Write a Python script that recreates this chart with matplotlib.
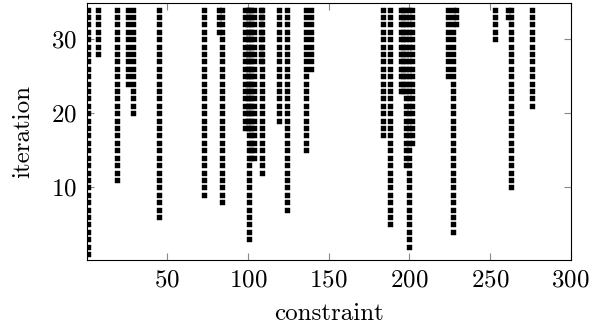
import matplotlib.pyplot as plt

plt.rcParams['font.family'] = 'serif'
plt.rcParams['font.serif'] = ['cmr10']
plt.rcParams['mathtext.fontset'] = 'cm'
plt.rcParams['axes.formatter.use_mathtext'] = True

# constraint index and the first iteration it shows up (stays until the last one)
constraint = [1, 7, 19, 26, 29, 45, 73, 82, 84, 98, 100, 101, 102, 104, 108, 109,
              119, 124, 136, 139, 184, 188, 195, 196, 198, 200, 202, 224, 227, 229,
              253, 261, 263, 276]
first_iter = [1, 28, 11, 24, 20, 6, 9, 31, 8, 18, 18, 3, 14, 14, 27, 12,
              19, 7, 15, 26, 17, 5, 23, 23, 13, 2, 16, 25, 4, 32,
              30, 33, 10, 21]
last_iter = 34

xs = []
ys = []
for c, f in zip(constraint, first_iter):
    for it in range(f, last_iter + 1):
        xs.append(c)
        ys.append(it)

fig = plt.figure(figsize=(6.05, 3.29), dpi=100)
ax = fig.add_axes([0.143, 0.21, 0.8, 0.78])
ax.plot(xs, ys, 's', color='black', ms=3.6, mew=0.3)

ax.set_xlim(0, 300)
ax.set_ylim(0.2, 34.85)
ax.set_xticks([50, 100, 150, 200, 250, 300])
ax.set_yticks([10, 20, 30])
ax.tick_params(direction='in', top=True, right=True, length=5, width=0.8,
               color='#888888', labelsize=18, pad=7)
for s in ax.spines.values():
    s.set_linewidth(0.8)
ax.set_xlabel('constraint', fontsize=18, labelpad=8)
ax.set_ylabel('iteration', fontsize=18, labelpad=12)

fig.savefig('out.png', dpi=100)
